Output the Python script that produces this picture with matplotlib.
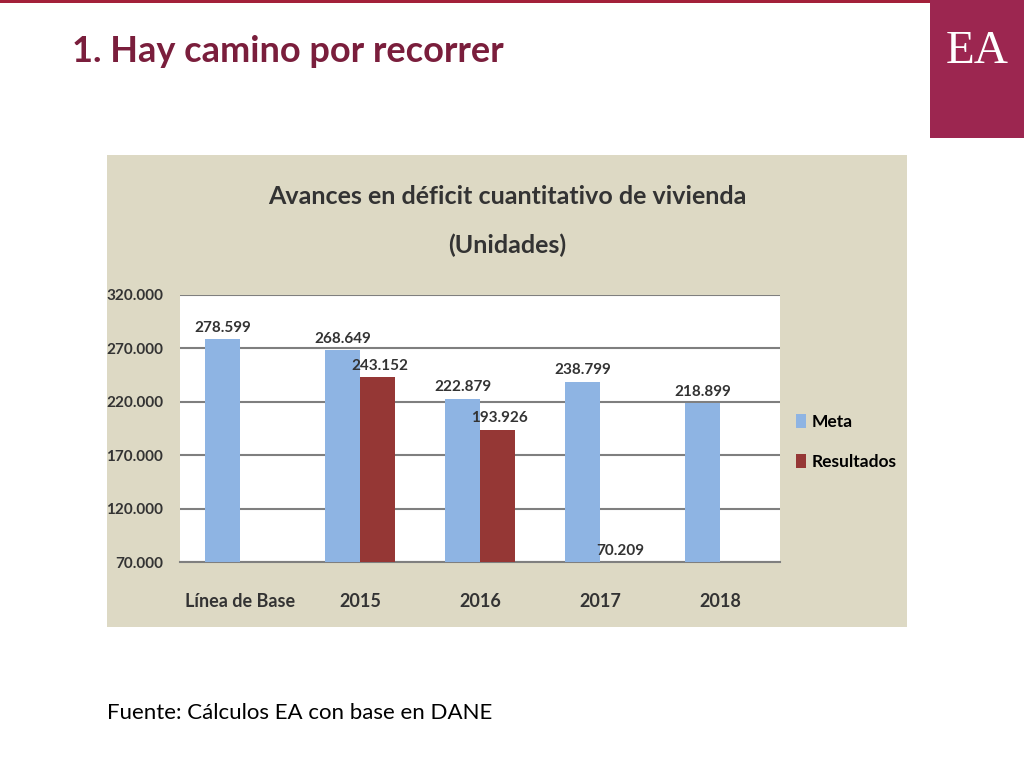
import matplotlib.pyplot as plt
from matplotlib.patches import Rectangle
from matplotlib.ticker import FuncFormatter

plt.rcParams["font.family"] = "Lato"

categories = ["Línea de Base", "2015", "2016", "2017", "2018"]
meta = [278599, 268649, 222879, 238799, 218899]
resultados = [None, 243152, 193926, 70209, None]

W, H = 1024, 768
fig = plt.figure(figsize=(10.24, 7.68), dpi=100)
fig.patch.set_facecolor("white")

def fx(px):
    return px / W

def fy(py):
    return 1 - py / H

maroon = "#7A1E3C"

# top rule and logo
fig.add_artist(Rectangle((0, fy(3)), fx(930), 3 / H, transform=fig.transFigure,
                         color="#A3203A", lw=0))
fig.add_artist(Rectangle((fx(930), fy(138)), fx(94), 138 / H, transform=fig.transFigure,
                         color="#9C2650", lw=0))
fig.text(fx(977), fy(52), "EA", color="white", fontsize=34, family="Liberation Serif",
         ha="center", va="center")

fig.text(fx(72), fy(52), "1. Hay camino por recorrer", color=maroon, fontsize=26,
         fontweight="bold", va="center")

# chart panel (behind the axes)
fig.add_artist(Rectangle((fx(107), fy(627)), fx(800), 472 / H, transform=fig.transFigure,
                         color="#DDD9C4", lw=0, zorder=-5))
fig.text(fx(507), fy(197), "Avances en déficit cuantitativo de vivienda", fontsize=18,
         fontweight="bold", color="#333333", ha="center", va="center")
fig.text(fx(507), fy(245), "(Unidades)", fontsize=18, fontweight="bold",
         color="#333333", ha="center", va="center")

ax = fig.add_axes([fx(180), fy(562), fx(600), 267 / H])
ax.set_facecolor("white")
x = list(range(len(categories)))
w = 0.29
blue = "#8EB4E3"
red = "#953735"
ax.bar([i - w / 2 for i in x], meta, width=w, color=blue, label="Meta", zorder=3)
rx = [i + w / 2 for i, v in zip(x, resultados) if v is not None]
rv = [v for v in resultados if v is not None]
ax.bar(rx, rv, width=w, color=red, label="Resultados", zorder=3)

for i, v in zip(x, meta):
    ax.text(i - w / 2, v + 4000, f"{v:,}".replace(",", "."), ha="center", va="bottom",
            fontsize=11, fontweight="bold", color="#333333", zorder=4)
for i, v in zip(rx, rv):
    ax.text(i + 0.02, v + 4000, f"{v:,}".replace(",", "."), ha="center", va="bottom",
            fontsize=11, fontweight="bold", color="#333333", zorder=4)

ax.set_ylim(70000, 320000)
ax.set_xlim(-0.5, 4.5)
ax.set_yticks(range(70000, 320001, 50000))
ax.yaxis.set_major_formatter(FuncFormatter(lambda v, p: f"{int(v):,}".replace(",", ".")))
ax.set_xticks(x)
ax.set_xticklabels(categories)
ax.grid(axis="y", color="#7F7F7F", lw=1.5, zorder=0)
for s in ["top", "right", "left"]:
    ax.spines[s].set_visible(False)
ax.spines["bottom"].set_color("#7F7F7F")
ax.spines["bottom"].set_linewidth(1.5)
ax.tick_params(axis="y", length=0, labelsize=11, labelcolor="#333333", pad=12)
ax.tick_params(axis="x", length=0, labelsize=13, labelcolor="#333333", pad=22)
for t in ax.get_xticklabels() + ax.get_yticklabels():
    t.set_fontweight("bold")

ax.legend(loc="center left", bbox_to_anchor=(1.0, 0.45), frameon=False,
          prop={"size": 12.5, "weight": "bold"}, labelspacing=1.4,
          handlelength=0.6, handleheight=0.9, handletextpad=0.3)

fig.text(fx(107), fy(713), "Fuente: Cálculos EA con base en DANE", fontsize=16,
         color="black", va="center")

fig.savefig("out.png", dpi=100)
